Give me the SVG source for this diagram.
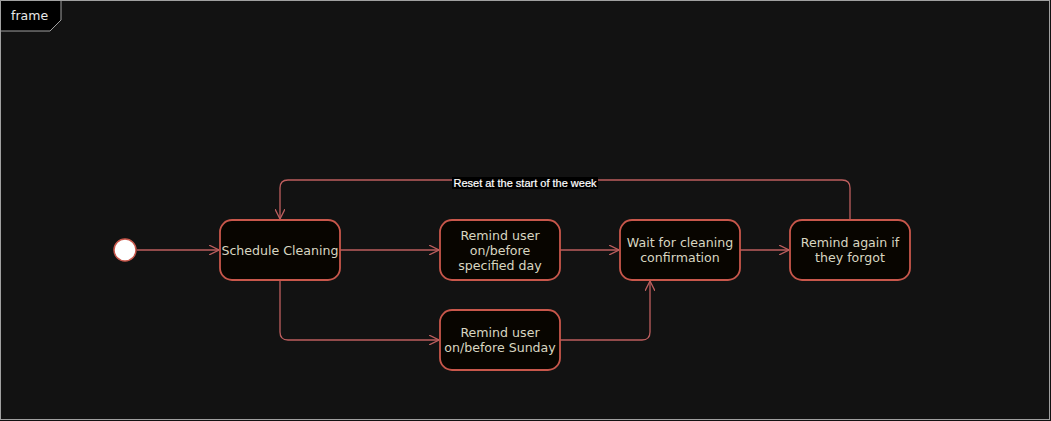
<svg xmlns="http://www.w3.org/2000/svg" width="1051" height="421" viewBox="0 0 1051 421">
<defs>
<style>
.node rect{fill:#080500;stroke:#c8574b;stroke-width:1.8}
.node text{font-family:"DejaVu Sans",sans-serif;font-size:12.6px;fill:#d8d6c0;text-anchor:middle}
.edge{fill:none;stroke:#bd5e5e;stroke-width:1.3}
</style>
<marker id="arr" viewBox="0 0 10 10" refX="10" refY="5" markerWidth="10" markerHeight="10" markerUnits="userSpaceOnUse" orient="auto">
<path d="M0,0 L10,5 L0,10" fill="none" stroke="#bd5e5e" stroke-width="1.3"/>
</marker>
</defs>
<rect x="0" y="0" width="1051" height="421" fill="#121212"/>
<g id="frame">
<rect x="0.5" y="0.5" width="1049" height="419" fill="none" stroke="#a0a0a0" stroke-width="1"/>
<path d="M0.5,0.5 H61 V20 L50,31 H0.5 Z" fill="#000" stroke="#a0a0a0" stroke-width="1"/>
<text x="11" y="20" font-family="DejaVu Sans,sans-serif" font-size="12.5px" fill="#e8e8e8">frame</text>
</g>
<g id="connectors">
<path class="edge" d="M137,250 H219" marker-end="url(#arr)"/>
<path class="edge" d="M340,250 H439" marker-end="url(#arr)"/>
<path class="edge" d="M560,250 H619" marker-end="url(#arr)"/>
<path class="edge" d="M740,250 H789" marker-end="url(#arr)"/>
<path class="edge" d="M850,220 V188 Q850,180 842,180 H288 Q280,180 280,188 V219" marker-end="url(#arr)"/>
<path class="edge" d="M280,280 V332 Q280,340 288,340 H439" marker-end="url(#arr)"/>
<path class="edge" d="M560,340 H642 Q650,340 650,332 V281" marker-end="url(#arr)"/>
<rect x="452" y="177" width="146" height="12" fill="#000"/>
<text x="525" y="187" font-family="Liberation Sans,Arial,sans-serif" font-size="11px" fill="#ffffff" text-anchor="middle" stroke="#ffffff" stroke-width="0.2">Reset at the start of the week</text>
</g>
<g id="start">
<circle cx="125" cy="250" r="11" fill="#ffffff" stroke="#c8574b" stroke-width="1.5"/>
</g>
<g id="schedule" class="node">
<rect x="220" y="220" width="120" height="60" rx="12"/>
<text x="280" y="255">Schedule Cleaning</text>
</g>
<g id="remindDay" class="node">
<rect x="440" y="220" width="120" height="60" rx="12"/>
<text x="500" y="240">Remind user</text>
<text x="500" y="255">on/before</text>
<text x="500" y="270">specified day</text>
</g>
<g id="wait" class="node">
<rect x="620" y="220" width="120" height="60" rx="12"/>
<text x="680" y="247">Wait for cleaning</text>
<text x="680" y="262">confirmation</text>
</g>
<g id="remindAgain" class="node">
<rect x="790" y="220" width="120" height="60" rx="12"/>
<text x="850" y="247">Remind again if</text>
<text x="850" y="262">they forgot</text>
</g>
<g id="remindSunday" class="node">
<rect x="440" y="310" width="120" height="60" rx="12"/>
<text x="500" y="337">Remind user</text>
<text x="500" y="352">on/before Sunday</text>
</g>
</svg>
